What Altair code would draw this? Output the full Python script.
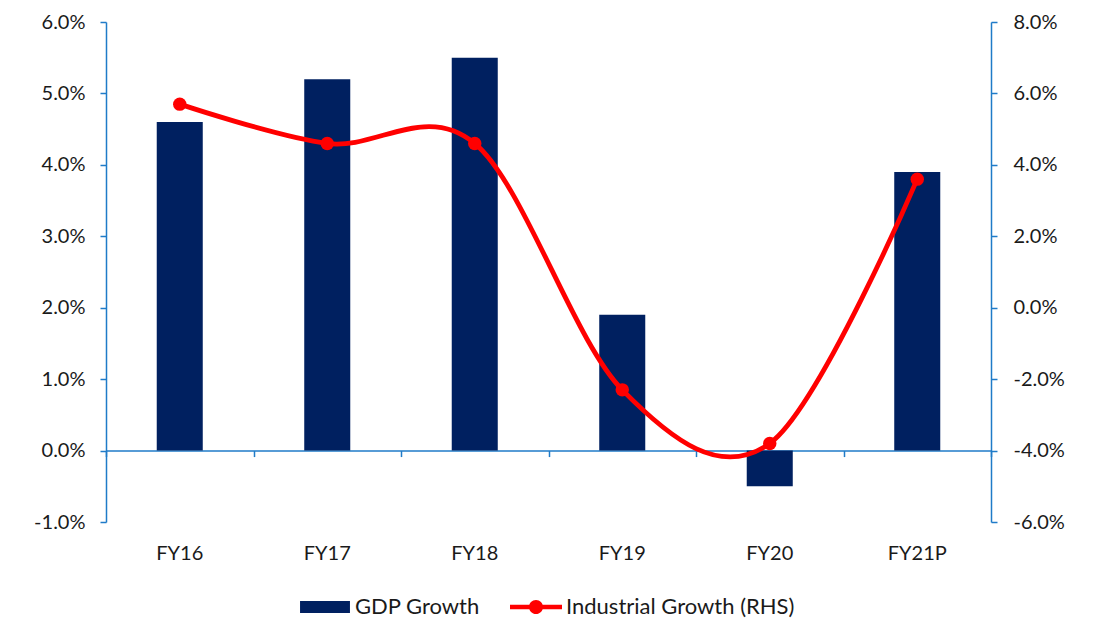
import altair as alt
import pandas as pd

# Fiscal years and the two growth series (in percent)
categories = ["FY16", "FY17", "FY18", "FY19", "FY20", "FY21P"]
gdp_growth = [4.6, 5.2, 5.5, 1.9, -0.5, 3.9]
industrial_growth = [5.7, 4.6, 4.6, -2.3, -3.8, 3.6]

series_names = ["GDP Growth", "Industrial Growth (RHS)"]
left_ticks = [-1, 0, 1, 2, 3, 4, 5, 6]
right_ticks = [-6, -4, -2, 0, 2, 4, 6, 8]

BAR_COLOR = "#002060"
LINE_COLOR = "#FF0000"
AXIS_COLOR = "#1F7BC8"
TEXT_COLOR = "#1a1a1a"
FONT = "Lato"
FS = 20
LEGEND_FS = 22

W, H = 885, 500

gdp_df = pd.DataFrame({"year": categories, "value": gdp_growth, "series": series_names[0]})
ind_df = pd.DataFrame({"year": categories, "value": industrial_growth, "series": series_names[1]})

x_scale = alt.Scale(domain=categories, paddingInner=0, paddingOuter=0)
left_scale = alt.Scale(domain=[left_ticks[0], left_ticks[-1]], nice=False, zero=False)
right_scale = alt.Scale(domain=[right_ticks[0], right_ticks[-1]], nice=False, zero=False)

# percent labels with a plain hyphen for negatives
pct_label = "(datum.value < 0 ? '-' : '') + format(abs(datum.value), '.1f') + '%'"

# x axis carrying the category labels at the bottom of the plot
x_label_axis = alt.Axis(
    orient="bottom", title=None, domain=False, ticks=False, grid=False,
    labelPadding=21, labelAngle=0, labelFont=FONT, labelFontSize=FS, labelColor=TEXT_COLOR,
)

# x axis drawn along the zero line of the left scale, with ticks between years
zero_offset = -H * (0 - left_ticks[0]) / (left_ticks[-1] - left_ticks[0])
x_zero_axis = alt.Axis(
    orient="bottom", title=None, labels=False, grid=False, offset=zero_offset,
    domainColor=AXIS_COLOR, domainWidth=1.5, tickColor=AXIS_COLOR, tickWidth=1.5,
    tickSize=6, tickBand="extent",
)

left_axis = alt.Axis(
    orient="left", title=None, values=left_ticks, grid=False, labelExpr=pct_label,
    domainColor=AXIS_COLOR, domainWidth=1.5, tickColor=AXIS_COLOR, tickWidth=1.5, tickSize=6,
    labelPadding=15, labelFont=FONT, labelFontSize=FS, labelColor=TEXT_COLOR,
)
right_axis = alt.Axis(
    orient="right", title=None, values=right_ticks, grid=False, labelExpr=pct_label,
    domainColor=AXIS_COLOR, domainWidth=1.5, tickColor=AXIS_COLOR, tickWidth=1.5, tickSize=6,
    labelPadding=16, labelFont=FONT, labelFontSize=FS, labelColor=TEXT_COLOR,
)

bars = alt.Chart(gdp_df).mark_bar(
    color=BAR_COLOR, width=alt.RelativeBandSize(0.312)
).encode(
    x=alt.X("year:N", scale=x_scale, sort=categories, axis=x_label_axis),
    y=alt.Y("value:Q", scale=left_scale, axis=left_axis),
)

# legend symbols: a filled block for the bars, a line with a dot for the line series
rect_path = "M-0.96,-0.23 L0.96,-0.23 L0.96,0.23 L-0.96,0.23 Z"
line_dot_path = (
    "M-1,-0.085 L1,-0.085 L1,0.085 L-1,0.085 Z "
    "M0.27,0 A0.27,0.27 0 1,1 -0.27,0 A0.27,0.27 0 1,1 0.27,0 Z"
)
# this layer draws nothing; it only supplies the legend from its fixed domains
legend_layer = alt.Chart(gdp_df).transform_filter("false").mark_point(
    filled=True, opacity=1
).encode(
    x=alt.X("year:N", scale=x_scale, sort=categories),
    y=alt.Y("value:Q", scale=left_scale),
    color=alt.Color(
        "series:N",
        scale=alt.Scale(domain=series_names, range=[BAR_COLOR, LINE_COLOR]),
        legend=alt.Legend(
            title=None, orient="none", direction="horizontal",
            legendX=193, legendY=559,
            symbolSize=2704, symbolOpacity=1, symbolStrokeWidth=0,
            labelFont=FONT, labelFontSize=LEGEND_FS, labelColor=TEXT_COLOR,
            labelLimit=0, labelOffset=4, columnPadding=30,
        ),
    ),
    shape=alt.Shape(
        "series:N",
        scale=alt.Scale(domain=series_names, range=[rect_path, line_dot_path]),
    ),
)

line = alt.Chart(ind_df).mark_line(
    color=LINE_COLOR, strokeWidth=4.8, interpolate="cardinal"
).encode(
    x=alt.X("year:N", scale=x_scale, sort=categories, axis=x_zero_axis),
    y=alt.Y("value:Q", scale=right_scale, axis=right_axis),
)
dots = alt.Chart(ind_df).mark_point(
    filled=True, color=LINE_COLOR, size=180, opacity=1
).encode(
    x=alt.X("year:N", scale=x_scale, sort=categories),
    y=alt.Y("value:Q", scale=right_scale),
)

left_layer = alt.layer(bars, legend_layer)
right_layer = alt.layer(line, dots)

chart = (
    alt.layer(left_layer, right_layer)
    .resolve_scale(y="independent")
    .resolve_axis(x="independent")
    .properties(
        width=W, height=H,
        padding={"left": 106, "top": 22, "right": 1097 - 106 - W, "bottom": 619 - 22 - H},
        autosize=alt.AutoSizeParams(type="none"),
        background="white",
    )
    .configure_view(stroke=None)
)

chart.save("out.html", embed_options={"renderer": "svg", "actions": False})
